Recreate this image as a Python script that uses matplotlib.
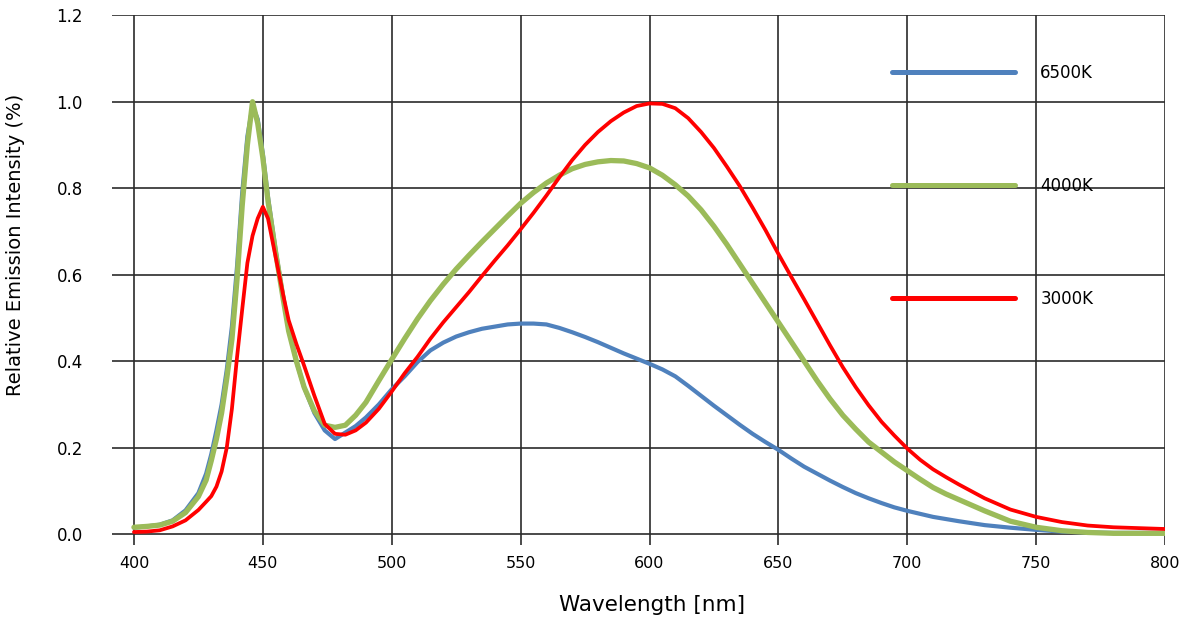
import numpy as np
import matplotlib
matplotlib.use("Agg")
import matplotlib.pyplot as plt

wavelength = [400, 405, 410, 415, 420, 425, 428, 430, 432, 434, 436, 438, 440, 442, 444,
              446, 448, 450, 452, 455, 458, 460, 463, 466, 470, 474, 478, 482, 486, 490,
              495, 500, 505, 510, 515, 520, 525, 530,
              535, 540, 545, 550, 555, 560, 565, 570, 575, 580,
              585, 590, 595, 600, 605, 610, 615, 620, 625, 630,
              635, 640, 645, 650, 655, 660, 665, 670, 675, 680,
              685, 690, 695, 700, 705, 710, 715, 720,
              730, 740, 750, 760, 770, 780, 790, 800]

k6500 = [0.015, 0.018, 0.022, 0.032, 0.055, 0.095, 0.14, 0.185, 0.24, 0.30, 0.38, 0.48, 0.62, 0.79, 0.92,
         0.99, 0.96, 0.88, 0.78, 0.655, 0.545, 0.475, 0.40, 0.34, 0.28, 0.24, 0.22, 0.235, 0.25, 0.27,
         0.30, 0.335, 0.365, 0.398, 0.425, 0.443, 0.457, 0.467,
         0.475, 0.48, 0.485, 0.487, 0.487, 0.485, 0.477, 0.467, 0.456, 0.444,
         0.431, 0.418, 0.406, 0.394, 0.381, 0.365, 0.343, 0.32, 0.297, 0.275,
         0.253, 0.232, 0.213, 0.195, 0.175, 0.156, 0.14, 0.124, 0.109, 0.095,
         0.083, 0.072, 0.062, 0.054, 0.047, 0.04, 0.035, 0.03,
         0.021, 0.015, 0.01, 0.006, 0.004, 0.003, 0.003, 0.003]

k4000 = [0.016, 0.018, 0.021, 0.030, 0.050, 0.087, 0.125, 0.17, 0.22, 0.28, 0.36, 0.45, 0.59, 0.76, 0.90,
         1.0, 0.95, 0.87, 0.77, 0.65, 0.54, 0.47, 0.40, 0.34, 0.285, 0.252, 0.247, 0.252, 0.275, 0.305,
         0.355, 0.404, 0.452, 0.498, 0.54, 0.578, 0.613, 0.645,
         0.676, 0.706, 0.736, 0.765, 0.79, 0.812, 0.83, 0.845, 0.855, 0.861,
         0.864, 0.863, 0.857, 0.847, 0.83, 0.808, 0.782, 0.75, 0.712, 0.67,
         0.625, 0.58, 0.535, 0.49, 0.445, 0.40, 0.355, 0.313, 0.275, 0.243,
         0.213, 0.19, 0.167, 0.147, 0.127, 0.108, 0.093, 0.08,
         0.054, 0.03, 0.016, 0.008, 0.004, 0.002, 0.002, 0.002]

k3000 = [0.005, 0.006, 0.009, 0.018, 0.032, 0.056, 0.075, 0.088, 0.11, 0.145, 0.20, 0.29, 0.41, 0.52, 0.627,
         0.69, 0.73, 0.757, 0.73, 0.64, 0.55, 0.495, 0.44, 0.39, 0.32, 0.255, 0.232, 0.23, 0.24, 0.258,
         0.29, 0.33, 0.372, 0.41, 0.452, 0.49, 0.525, 0.56,
         0.597, 0.633, 0.668, 0.705, 0.743, 0.783, 0.825, 0.865, 0.9, 0.93,
         0.955, 0.975, 0.99, 0.996, 0.995, 0.985, 0.962, 0.93, 0.893, 0.85,
         0.805, 0.755, 0.703, 0.648, 0.595, 0.543, 0.49, 0.437, 0.386, 0.34,
         0.298, 0.26, 0.228, 0.198, 0.172, 0.15, 0.132, 0.115,
         0.083, 0.057, 0.04, 0.028, 0.02, 0.016, 0.014, 0.012]

x_ticks = [400, 450, 500, 550, 600, 650, 700, 750, 800]
y_ticks = [0.0, 0.2, 0.4, 0.6, 0.8, 1.0, 1.2]

fig = plt.figure(figsize=(11.92, 6.24), dpi=100)
ax = fig.add_axes([0.094, 0.1266, 0.8834, 0.849])

ax.plot(wavelength, k6500, color="#4F81BD", lw=3.0, label="6500K", solid_capstyle="round")
ax.plot(wavelength, k4000, color="#9BBB59", lw=3.8, label="4000K", solid_capstyle="round")
ax.plot(wavelength, k3000, color="#FF0000", lw=2.7, label="3000K", solid_capstyle="round")

ax.set_xlim(391.5, 800)
ax.set_ylim(-0.025, 1.2)
ax.set_xticks(x_ticks)
ax.set_yticks(y_ticks)
ax.set_yticklabels([f"{v:.1f}" for v in y_ticks])
ax.grid(True, color="#2b2b2b", lw=1.2)
ax.set_axisbelow(True)
for s in ax.spines.values():
    s.set_visible(False)
ax.tick_params(length=0, labelsize=11.5)
ax.tick_params(axis="y", pad=21, labelsize=12)
ax.tick_params(axis="x", pad=8)

ax.set_ylabel("Relative Emission Intensity (%)", fontsize=14)
ax.yaxis.set_label_coords(-0.0825, 0.566)
ax.set_xlabel("Wavelength [nm]", fontsize=15.5)
ax.xaxis.set_label_coords(0.513, -0.094)

leg = ax.legend(loc="upper left", bbox_to_anchor=(0.7407, 0.9075), frameon=False,
                fontsize=12, handlelength=7.4, handletextpad=1.5, labelspacing=5.7,
                borderpad=0, borderaxespad=0)
for line in leg.get_lines():
    line.set_linewidth(3.6)

plt.savefig("out.png", dpi=100)
